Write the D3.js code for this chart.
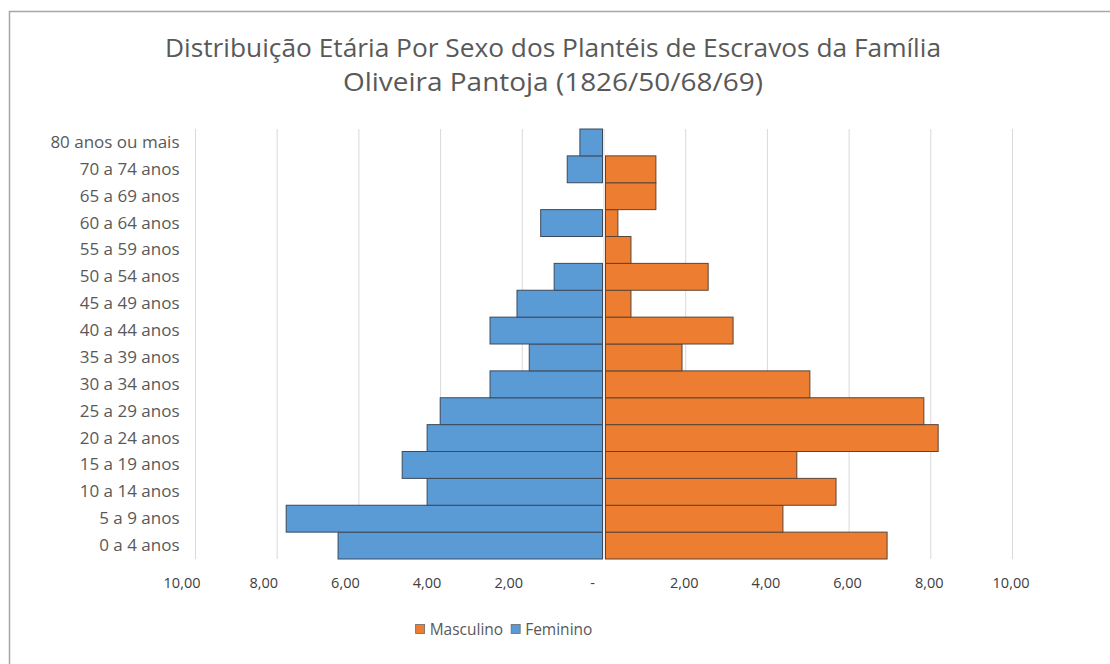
<!DOCTYPE html>
<html><head><meta charset="utf-8">
<script src="https://cdn.jsdelivr.net/npm/d3@7"></script>
<style>body{margin:0;background:#fff}svg{display:block}text{font-family:"Open Sans",sans-serif}</style>
</head><body>
<svg id="c" width="1110" height="664"></svg>
<script>
const categories = ["0 a 4 anos","5 a 9 anos","10 a 14 anos","15 a 19 anos","20 a 24 anos","25 a 29 anos","30 a 34 anos","35 a 39 anos","40 a 44 anos","45 a 49 anos","50 a 54 anos","55 a 59 anos","60 a 64 anos","65 a 69 anos","70 a 74 anos","80 anos ou mais"];
const masculino = [6.93,4.38,5.68,4.72,8.18,7.83,5.04,1.91,3.16,0.66,2.55,0.66,0.34,1.27,1.27,0];
const feminino  = [6.51,7.78,4.33,4.94,4.33,4.01,2.79,1.83,2.79,2.13,1.22,0,1.55,0,0.90,0.59];
const xTicks = [-10,-8,-6,-4,-2,0,2,4,6,8,10];
const titleLines = ["Distribuição Etária Por Sexo dos Plantéis de Escravos da Família","Oliveira Pantoja (1826/50/68/69)"];
const seriesNames = ["Masculino","Feminino"];
const colors = {Masculino:"#ED7D31", Feminino:"#5B9BD5"};

const svg = d3.select("#c");
const textColor = "#595959";

// chart border (top/left visible)
svg.append("rect").attr("x",9.5).attr("y",11.5).attr("width",1200).attr("height",800)
  .attr("fill","none").attr("stroke","#a6a6a6").attr("stroke-width",1.5);

const x = d3.scaleLinear().domain([-10,10]).range([195.5,1012.5]);
const y = d3.scaleBand().domain(categories.slice().reverse()).range([129,559]).padding(0);

// gridlines
svg.append("g").selectAll("line").data(xTicks).join("line")
  .attr("x1",d=>x(d)).attr("x2",d=>x(d)).attr("y1",129).attr("y2",559)
  .attr("stroke","#d9d9d9").attr("stroke-width",1);

// bars
const rows = categories.map((c,i)=>({c, m:masculino[i], f:feminino[i]}));
svg.append("g").selectAll("rect").data(rows.filter(d=>d.f>0)).join("rect")
  .attr("x",d=>x(-d.f)).attr("y",d=>y(d.c))
  .attr("width",d=>x(0)-x(-d.f)-1.5).attr("height",y.bandwidth())
  .attr("fill",colors.Feminino).attr("stroke","#3b4a5c").attr("stroke-width",1);
svg.append("g").selectAll("rect").data(rows.filter(d=>d.m>0)).join("rect")
  .attr("x",x(0)+1.5).attr("y",d=>y(d.c))
  .attr("width",d=>x(d.m)-x(0)-1.5).attr("height",y.bandwidth())
  .attr("fill",colors.Masculino).attr("stroke","#5a4536").attr("stroke-width",1);

// x axis
const fmt = v => v===0 ? "-" : d3.format(".2f")(Math.abs(v)).replace(".",",");
const xa = svg.append("g").attr("transform","translate(0,559)")
  .call(d3.axisBottom(x).tickValues(xTicks).tickFormat(fmt).tickSize(0).tickPadding(19));
xa.select(".domain").remove();
xa.selectAll("text").attr("fill","#404040").style("font-size","14.5px").style("font-family","Open Sans")
  .attr("dx",d=> d<0 ? -14 : d===0 ? -12 : -2);

// y axis
const ya = svg.append("g").attr("transform","translate(195.5,0)")
  .call(d3.axisLeft(y).tickSize(0).tickPadding(16));
ya.select(".domain").remove();
ya.selectAll("text").attr("fill",textColor).style("font-size","17px").style("font-family","Open Sans");

// title
const tl = [776, 420];
svg.append("g").selectAll("text").data(titleLines).join("text")
  .attr("x",553).attr("y",(d,i)=>57+i*34).attr("text-anchor","middle")
  .attr("textLength",(d,i)=>tl[i]).attr("lengthAdjust","spacingAndGlyphs")
  .attr("fill",textColor).style("font-size","25px").text(d=>d);

// legend
const lg = svg.append("g");
let cx = 0;
seriesNames.forEach((n,i)=>{
  const g = lg.append("g").attr("transform",`translate(${cx},0)`);
  g.append("rect").attr("x",0).attr("y",-4.5).attr("width",9).attr("height",9)
    .attr("fill",colors[n]).attr("stroke","#6b6b6b").attr("stroke-width",0.8);
  const t = g.append("text").attr("x",14).attr("y",5.5).attr("fill",textColor).style("font-size","15.5px").text(n);
  cx += 14 + t.node().getComputedTextLength() + 8;
});
const lw = cx - 8;
lg.attr("transform",`translate(${504 - lw/2},629)`);
</script>
</body></html>
